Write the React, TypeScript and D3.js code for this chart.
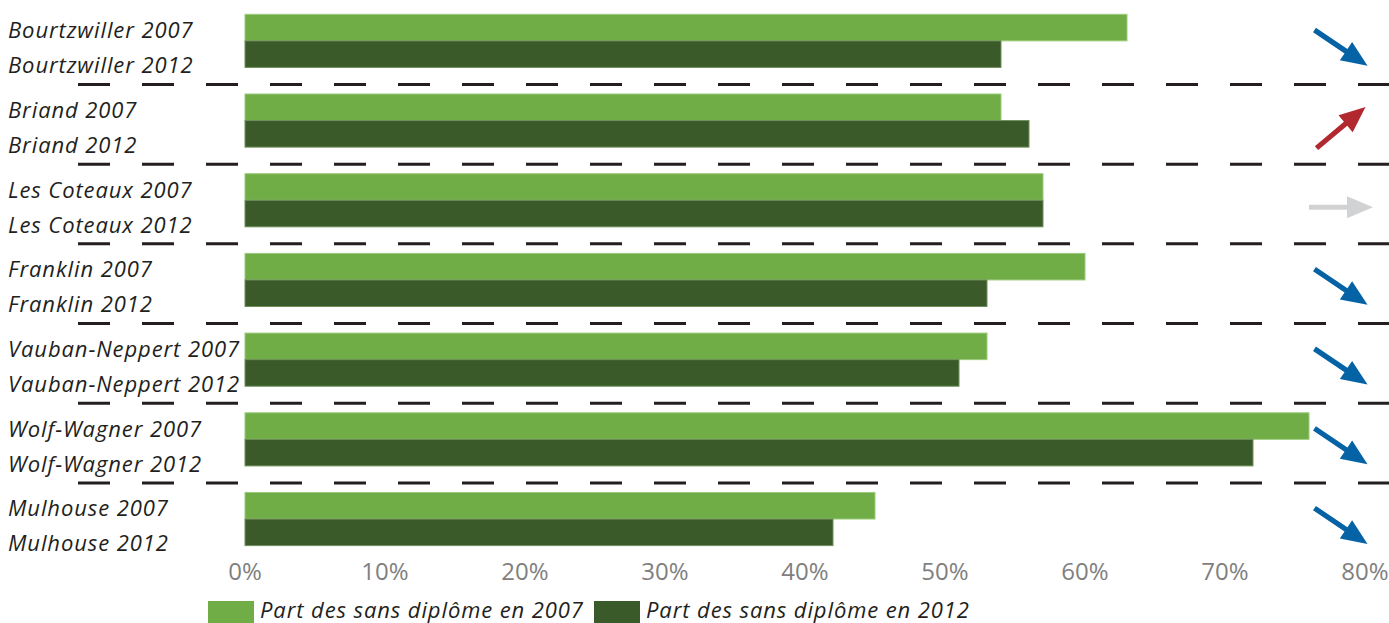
import React from "react";
import * as d3 from "d3";

// Quartiers de Mulhouse : part des sans diplôme
const quartiers = [
  "Bourtzwiller",
  "Briand",
  "Les Coteaux",
  "Franklin",
  "Vauban-Neppert",
  "Wolf-Wagner",
  "Mulhouse",
];
const part2007 = [0.63, 0.54, 0.57, 0.6, 0.53, 0.76, 0.45];
const part2012 = [0.54, 0.56, 0.57, 0.53, 0.51, 0.72, 0.42];
const xTicks = [0, 0.1, 0.2, 0.3, 0.4, 0.5, 0.6, 0.7, 0.8];
const legendLabels = [
  "Part des sans diplôme en 2007",
  "Part des sans diplôme en 2012",
];

const W = 1389;
const H = 623;
const GREEN_LIGHT = "#70ad47";
const GREEN_DARK = "#3b5a2a";
const INK = "#231f20";
const LABEL_FONT = "'Open Sans', 'Noto Sans', sans-serif";

function Arrow({ cx, cy, delta }: { cx: number; cy: number; delta: number }) {
  const angle = delta < 0 ? 34 : delta > 0 ? -40 : 0;
  const color = delta < 0 ? "#0563a5" : delta > 0 ? "#b1282f" : "#d1d2d4";
  const L = 64;
  const head = 26;
  const hw = 11;
  const sw = 2.6;
  const x0 = -L / 2;
  const x1 = L / 2;
  const d = `M${x0},${-sw} L${x1 - head},${-sw} L${x1 - head},${-hw} L${x1},0 L${x1 - head},${hw} L${x1 - head},${sw} L${x0},${sw} Z`;
  return <path d={d} fill={color} transform={`translate(${cx},${cy}) rotate(${angle})`} />;
}

export default function App() {
  const x = d3.scaleLinear().domain([0, 0.8]).range([245, 1365]);
  const y = d3
    .scaleBand<string>()
    .domain(quartiers)
    .range([14.3, 545.6])
    .paddingInner(1 / 3)
    .paddingOuter(0);
  const sub = d3.scaleBand<string>().domain(["2007", "2012"]).range([0, y.bandwidth()]);
  const bh = sub.bandwidth();

  return (
    <svg
      width={W}
      height={H}
      style={{ position: "absolute", left: 0, top: 0, background: "#fff" }}
    >
      {/* séparateurs pointillés */}
      {quartiers.slice(0, -1).map((q) => {
        const yy = (y(q) as number) + y.bandwidth() + 17;
        return (
          <line
            key={"sep" + q}
            x1={78}
            x2={W}
            y1={yy}
            y2={yy}
            stroke={INK}
            strokeWidth={3}
            strokeDasharray="32 32"
          />
        );
      })}

      {/* barres */}
      {quartiers.map((q, i) => {
        const top = y(q) as number;
        return (
          <g key={"bars" + q}>
            <rect
              x={x(0)}
              y={top + (sub("2007") as number)}
              width={x(part2007[i]) - x(0)}
              height={bh}
              fill={GREEN_LIGHT}
              stroke="#9ccc7c"
              strokeWidth={1}
            />
            <rect
              x={x(0)}
              y={top + (sub("2012") as number)}
              width={x(part2012[i]) - x(0)}
              height={bh}
              fill={GREEN_DARK}
              stroke="#6f8f5a"
              strokeWidth={1}
            />
          </g>
        );
      })}

      {/* libellés */}
      {quartiers.map((q) => {
        const top = y(q) as number;
        return (
          <g
            key={"lab" + q}
            fontFamily={LABEL_FONT}
            fontStyle="italic"
            fontSize={22}
            letterSpacing={0.9}
            fill={INK}
          >
            <text x={8} y={top + 24}>{`${q} 2007`}</text>
            <text x={8} y={top + 59}>{`${q} 2012`}</text>
          </g>
        );
      })}

      {/* flèches d'évolution */}
      {quartiers.map((q, i) => (
        <Arrow
          key={"arr" + q}
          cx={1341}
          cy={(y(q) as number) + y.bandwidth() / 2 + 7}
          delta={part2012[i] - part2007[i]}
        />
      ))}

      {/* axe des abscisses */}
      {xTicks.map((t) => (
        <text
          key={"t" + t}
          x={x(t)}
          y={580}
          textAnchor="middle"
          fontFamily={LABEL_FONT}
          fontSize={24}
          fill="#7f7f7f"
        >
          {d3.format(".0%")(t)}
        </text>
      ))}

      {/* légende */}
      {[GREEN_LIGHT, GREEN_DARK].map((c, i) => {
        const lx = i === 0 ? 208 : 594;
        return (
          <g key={"leg" + i}>
            <rect x={lx} y={601} width={46} height={22} fill={c} />
            <text
              x={lx + 52}
              y={618}
              fontFamily={LABEL_FONT}
              fontStyle="italic"
              fontSize={22}
              letterSpacing={0.9}
              fill={INK}
            >
              {legendLabels[i]}
            </text>
          </g>
        );
      })}
    </svg>
  );
}
